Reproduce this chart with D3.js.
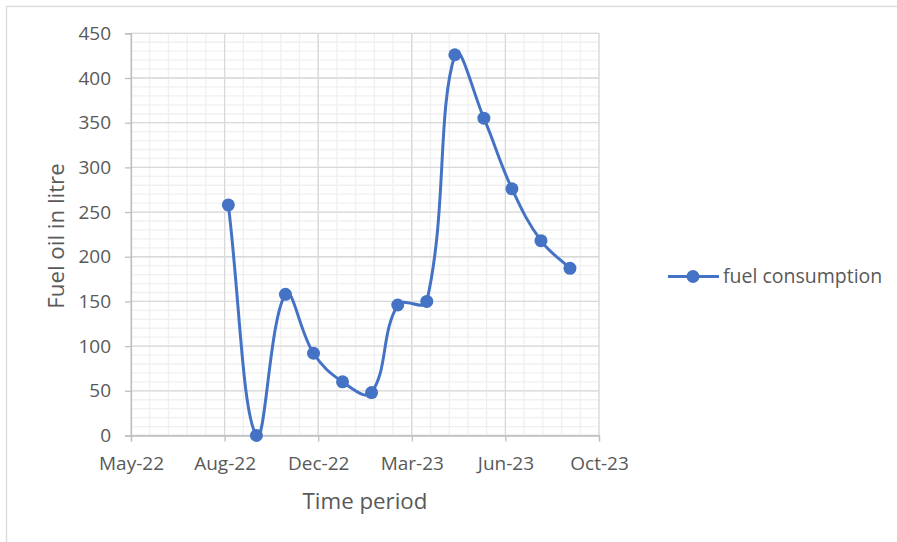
<!DOCTYPE html>
<html><head><meta charset="utf-8">
<script src="https://cdn.jsdelivr.net/npm/d3@7"></script>
<style>body{margin:0;background:#fff;} text{font-family:"Open Sans",Lato,sans-serif;}</style>
</head><body>
<svg id="c" width="897" height="542"></svg>
<script>
const dates = ["2022-08-31","2022-09-30","2022-10-31","2022-11-30","2022-12-31","2023-01-31","2023-02-28","2023-03-31","2023-04-30","2023-05-31","2023-06-30","2023-07-31","2023-08-31"];
const fuel = [258, 0, 158, 92, 60, 48, 146, 150, 426, 355, 276, 218, 187];
const seriesName = "fuel consumption";
const xTickLabels = ["May-22","Aug-22","Dec-22","Mar-23","Jun-23","Oct-23"];
const yTicks = [0,50,100,150,200,250,300,350,400,450];

const svg = d3.select("#c");
const W = 897, H = 542;
const L = 131, R = 599, T = 33.3, B = 435.5;
const MS = 86400000;
const xMin = new Date(Date.UTC(2022,4,19)), xMax = new Date(xMin.getTime() + 500*MS);
const x = d3.scaleUtc().domain([xMin, xMax]).range([L, R]);
const y = d3.scaleLinear().domain([0, 450]).range([B, T]);
const parse = d3.utcParse("%Y-%m-%d");
const data = dates.map((d,i)=>({d:parse(d), v:fuel[i]}));

// chart border
svg.append("rect").attr("x",6.5).attr("y",6.5).attr("width",W+20).attr("height",H+20)
  .attr("fill","#fff").attr("stroke","#D9D9D9").attr("stroke-width",1.3);

const g = svg.append("g");
const minorX = d3.range(0, 501, 20).map(k=>new Date(xMin.getTime()+k*MS));
const majorX = d3.range(0, 501, 100).map(k=>new Date(xMin.getTime()+k*MS));
const minorY = d3.range(0, 451, 10);
g.selectAll(".mx").data(minorX).join("line").attr("x1",d=>x(d)).attr("x2",d=>x(d)).attr("y1",T).attr("y2",B).attr("stroke","#F0F0F0").attr("stroke-width",1.3);
g.selectAll(".my").data(minorY).join("line").attr("x1",L).attr("x2",R).attr("y1",d=>y(d)).attr("y2",d=>y(d)).attr("stroke","#F0F0F0").attr("stroke-width",1.3);
g.selectAll(".Mx").data(majorX).join("line").attr("x1",d=>x(d)).attr("x2",d=>x(d)).attr("y1",T).attr("y2",B).attr("stroke","#D9D9D9").attr("stroke-width",1.3);
g.selectAll(".My").data(yTicks).join("line").attr("x1",L).attr("x2",R).attr("y1",d=>y(d)).attr("y2",d=>y(d)).attr("stroke","#D9D9D9").attr("stroke-width",1.3);

// axes
const xAxis = d3.axisBottom(x).tickValues(majorX).tickFormat((d,i)=>xTickLabels[i]).tickSize(6).tickPadding(15);
const gx = svg.append("g").attr("transform",`translate(0,${B})`).call(xAxis);
gx.select(".domain").attr("stroke","#BFBFBF").attr("stroke-width",1.3);
gx.selectAll(".tick line").attr("stroke","#BFBFBF").attr("stroke-width",1.3);
gx.selectAll("text").attr("fill","#595959").style("font-size","19px").style("font-family","'Open Sans'");
const yAxis = d3.axisLeft(y).tickValues(yTicks).tickSize(6).tickPadding(14);
const gy = svg.append("g").attr("transform",`translate(${L},0)`).call(yAxis);
gy.select(".domain").attr("stroke","#BFBFBF").attr("stroke-width",1.3);
gy.selectAll(".tick line").attr("stroke","#BFBFBF").attr("stroke-width",1.3);
gy.selectAll("text").attr("fill","#595959").style("font-size","19px").style("font-family","'Open Sans'");

// titles
svg.append("text").attr("x",365).attr("y",509).attr("text-anchor","middle").attr("fill","#595959").style("font-size","22.3px").text("Time period");
svg.append("text").attr("transform","translate(64,236) rotate(-90)").attr("text-anchor","middle").attr("fill","#595959").style("font-size","22.3px").text("Fuel oil in litre");

// series: Excel-style smoothed line (segment-length-weighted Bezier tangents)
const blue = "#4472C4";
const pts = data.map(d=>[x(d.d), y(d.v)]);
const p = d3.path();
p.moveTo(pts[0][0], pts[0][1]);
const dist = (a,b)=>Math.hypot(b[0]-a[0], b[1]-a[1]);
function ctrl(i){
  const prev = pts[Math.max(i-1,0)], next = pts[Math.min(i+1,pts.length-1)], cur = pts[i];
  const d0 = i>0 ? dist(prev,cur) : 0, d1 = i<pts.length-1 ? dist(cur,next) : 0;
  const tx = next[0]-prev[0], ty = next[1]-prev[1];
  const s = d0+d1 || 1, f = 0.4;
  return {
    before:[cur[0]-tx*f*d0/s, cur[1]-ty*f*d0/s],
    after:[cur[0]+tx*f*d1/s, cur[1]+ty*f*d1/s]
  };
}
const cs = pts.map((_,i)=>ctrl(i));
for(let i=0;i<pts.length-1;i++){
  const a = cs[i].after, b = cs[i+1].before;
  p.bezierCurveTo(a[0],a[1],b[0],b[1],pts[i+1][0],pts[i+1][1]);
}
svg.append("path").attr("d",p.toString()).attr("fill","none").attr("stroke",blue).attr("stroke-width",3);
svg.selectAll(".pt").data(data).join("circle").attr("cx",d=>x(d.d)).attr("cy",d=>y(d.v)).attr("r",6.5).attr("fill",blue);

// legend
svg.append("line").attr("x1",668).attr("x2",719).attr("y1",276.5).attr("y2",276.5).attr("stroke",blue).attr("stroke-width",3);
svg.append("circle").attr("cx",693).attr("cy",276.5).attr("r",6.5).attr("fill",blue);
svg.append("text").attr("x",723).attr("y",283).attr("fill","#595959").style("font-size","19.5px").text(seriesName);
</script>
</body></html>
